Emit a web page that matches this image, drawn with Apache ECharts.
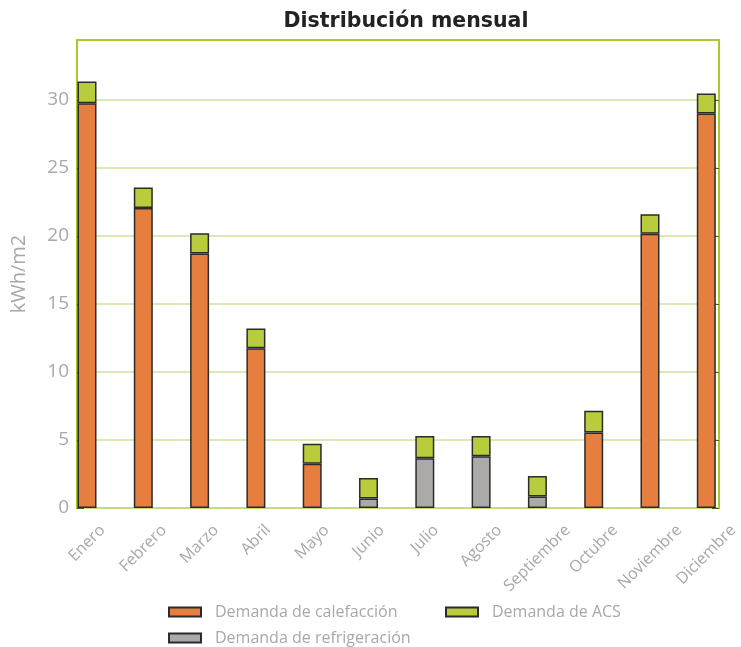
<!DOCTYPE html>
<html>
<head>
<meta charset="utf-8">
<script src="https://cdn.jsdelivr.net/npm/echarts@6/dist/echarts.min.js"></script>
<style>
  html, body { margin: 0; padding: 0; background: #fff; }
  #chart { width: 741px; height: 647px; }
</style>
</head>
<body>
<div id="chart"></div>
<script>
// datos mensuales (kWh/m2)
const meses = ["Enero", "Febrero", "Marzo", "Abril", "Mayo", "Junio", "Julio",
  "Agosto", "Septiembre", "Octubre", "Noviembre", "Diciembre"];
const calefaccion = [29.75, 22.05, 18.7, 11.75, 3.25, null, null, null, null, 5.55, 20.15, 29.0];
const refrigeracion = [null, null, null, null, null, 0.7, 3.65, 3.8, 0.85, null, null, null];
const acs = [1.6, 1.5, 1.5, 1.45, 1.47, 1.5, 1.64, 1.5, 1.5, 1.6, 1.45, 1.47];
const marcasY = [0, 5, 10, 15, 20, 25, 30];

const grisTexto = "#a8a8a8";
const verde = "#a9c82a";
const fuente = "Open Sans";
const tamMes = 16;

const chart = echarts.init(document.getElementById("chart"));

const barra = (name, data, color) => ({
  name: name,
  type: "bar",
  stack: "total",
  xAxisIndex: 1,
  yAxisIndex: 2,
  barWidth: 19,
  data: data,
  itemStyle: { color: color, borderColor: "#2b2b2b", borderWidth: 1.5 },
});

const leyenda = (nombre, left, top) => ({
  data: [nombre],
  left: left, top: top, padding: 0,
  icon: "rect", itemWidth: 32, itemHeight: 9,
  textStyle: { color: grisTexto, fontFamily: fuente, fontSize: 16, padding: [0, 0, 0, 9] },
});

const option = {
  animation: false,
  title: {
    text: "Distribución mensual",
    left: 401,
    top: 6,
    textAlign: "center",
    textStyle: { fontFamily: "DejaVu Sans", fontWeight: "bold", fontSize: 20.5, color: "#222" },
  },
  legend: [
    leyenda("Demanda de calefacción", 168, 604),
    leyenda("Demanda de ACS", 445, 604),
    leyenda("Demanda de refrigeración", 168, 630),
  ],
  grid: [
    // marco y líneas
    { left: 77, right: 22, top: 40, bottom: 139, show: true, borderColor: verde, borderWidth: 2 },
    // barras
    { left: 58.85, width: 675.6, top: 40, bottom: 139 },
  ],
  xAxis: [
    { gridIndex: 0, type: "category", data: meses, show: false },
    {
      gridIndex: 1, type: "category", data: meses,
      axisLine: { show: false }, axisTick: { show: false }, axisLabel: { show: false },
    },
  ],
  yAxis: [
    {
      gridIndex: 0, type: "value", min: 0, max: 34.4, interval: 5,
      name: "kWh/m2", nameLocation: "middle", nameGap: 48,
      nameTextStyle: { color: grisTexto, fontFamily: fuente, fontSize: 20 },
      axisLine: { show: false },
      axisTick: { show: true, inside: true, length: 7, customValues: marcasY, lineStyle: { color: "#555a20" } },
      axisLabel: { color: grisTexto, fontFamily: fuente, fontSize: 19, margin: 8, customValues: marcasY },
      splitLine: { show: true, lineStyle: { color: "#cfe29a", width: 1.5 } },
    },
    {
      gridIndex: 0, type: "value", min: 0, max: 34.4, interval: 5, position: "right",
      axisLine: { show: false },
      axisTick: { show: true, inside: true, length: 7, customValues: marcasY, lineStyle: { color: "#555a20" } },
      axisLabel: { show: false }, splitLine: { show: false },
    },
    { gridIndex: 1, type: "value", min: 0, max: 34.4, show: false },
  ],
  series: [
    barra("Demanda de calefacción", calefaccion, "#e57e3e"),
    barra("Demanda de refrigeración", refrigeracion, "#aca9a9"),
    barra("Demanda de ACS", acs, "#b9cc3c"),
  ],
};

chart.setOption(option);

// etiquetas de meses giradas 45º: centradas bajo cada barra, con el borde superior alineado
const ctx = document.createElement("canvas").getContext("2d");
ctx.font = tamMes + "px '" + fuente + "'";
const y0 = chart.convertToPixel({ yAxisIndex: 2 }, 0);
const etiquetas = meses.map((m) => {
  const x = chart.convertToPixel({ xAxisIndex: 1 }, m);
  const L = ctx.measureText(m).width;
  const y = y0 + 14 + (L + tamMes) * 0.354;
  return {
    type: "text",
    x: x, y: y,
    rotation: Math.PI / 4,
    silent: true,
    style: {
      text: m,
      fill: grisTexto,
      fontSize: tamMes,
      fontFamily: fuente,
      align: "center",
      verticalAlign: "middle",
    },
  };
});
chart.setOption({ graphic: etiquetas });
</script>
</body>
</html>
